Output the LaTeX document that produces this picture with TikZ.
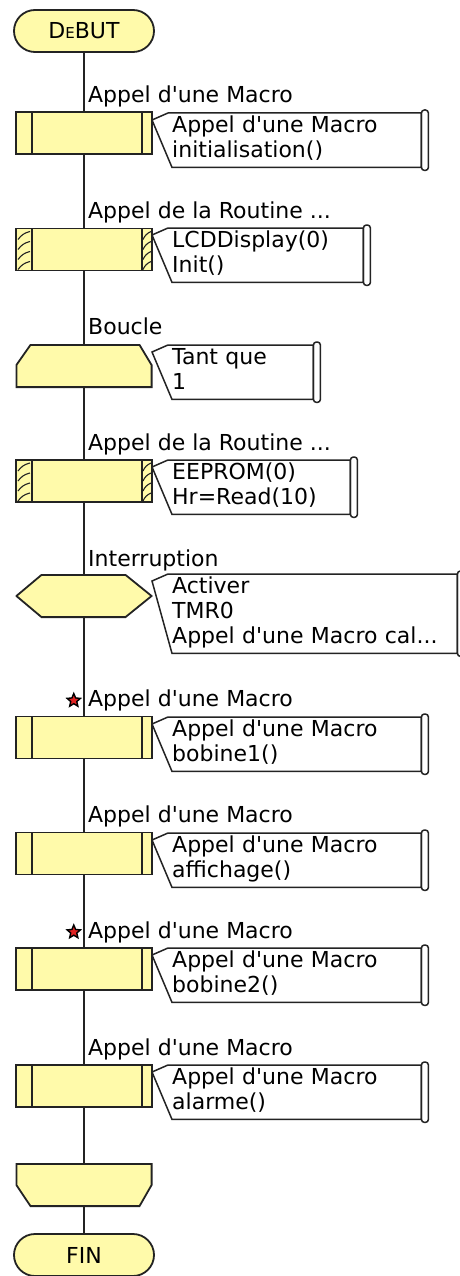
\documentclass[tikz,border=0pt]{standalone}
\usepackage{fontspec}
\usetikzlibrary{positioning, calc, shapes.misc, shapes.geometric}
\newfontfamily\dejavu{DejaVu Sans}
\definecolor{flowfill}{RGB}{255,250,170}
\definecolor{flowline}{RGB}{35,35,35}
\definecolor{bkred}{RGB}{225,35,35}
\newcommand{\apos}{\textquotesingle}
\newcommand{\fcfont}{\dejavu\fontsize{22}{25}\selectfont}
\newcommand{\ppb}{path picture bounding box}
% the two thin bars of a call block
\newcommand{\sidebars}{%
  \draw[flowline, line width=1.8pt]
    ([xshift=16pt]\ppb.north west) -- ([xshift=16pt]\ppb.south west)
    ([xshift=-10pt]\ppb.north east) -- ([xshift=-10pt]\ppb.south east);}
% hatched bars of a routine call
\newcommand{\hatchbars}{%
  \foreach \k in {0,...,3} {
    \draw[flowline, line width=1.1pt]
      ($(\ppb.north west)+(2pt,{-(11+10*\k)*1pt})$) to[bend left=20] ($(\ppb.north west)+(14pt,{-(3+10*\k)*1pt})$)
      ($(\ppb.north east)+(-9pt,{-(11+10*\k)*1pt})$) to[bend left=20] ($(\ppb.north east)+(-1pt,{-(3+10*\k)*1pt})$);
  }}

\begin{document}
\begin{tikzpicture}[x=1pt, y=-1pt,
  flow/.style={draw=flowline, line width=1.8pt, fill=flowfill, inner sep=0pt, font=\fcfont},
  term/.style={flow, rounded rectangle, minimum width=140pt, minimum height=42pt},
  macrobox/.style={flow, minimum width=136pt, minimum height=42pt, path picture={\sidebars}},
  routine/.style={flow, minimum width=136pt, minimum height=42pt, path picture={\hatchbars\sidebars}},
  shaped/.style={inner sep=0pt, minimum width=137pt, minimum height=44pt,
    path picture={\filldraw[fill=flowfill, draw=flowline, line width=1.8pt] #1;}},
  loopstart/.style={shaped={($(\ppb.south west)+(.9pt,.9pt)$) -- ($(\ppb.north west)+(.9pt,-21pt)$)
    -- ($(\ppb.north west)+(15pt,-.9pt)$) -- ($(\ppb.north east)+(-13pt,-.9pt)$)
    -- ($(\ppb.north east)+(-.9pt,-21pt)$) -- ($(\ppb.south east)+(-.9pt,.9pt)$) -- cycle}},
  loopend/.style={shaped={($(\ppb.north west)+(.9pt,-.9pt)$) -- ($(\ppb.north east)+(-.9pt,-.9pt)$)
    -- ($(\ppb.south east)+(-.9pt,22pt)$) -- ($(\ppb.south east)+(-13pt,.9pt)$)
    -- ($(\ppb.south west)+(15pt,.9pt)$) -- ($(\ppb.south west)+(.9pt,22pt)$) -- cycle}},
  hexa/.style={shaped={($(\ppb.west)+(.9pt,0pt)$) -- ($(\ppb.north west)+(26pt,-.9pt)$)
    -- ($(\ppb.north east)+(-27pt,-.9pt)$) -- ($(\ppb.east)+(-.9pt,0pt)$)
    -- ($(\ppb.south east)+(-27pt,.9pt)$) -- ($(\ppb.south west)+(26pt,.9pt)$) -- cycle}},
  lbl/.style={font=\fcfont, inner sep=0pt, anchor=base west},
  note/.style={font=\fcfont, anchor=north west, align=left, inner xsep=2pt, inner ysep=2pt,
    execute at begin node=\strut, execute at end node=\strut},
  notebox/.style={draw=flowline, line width=1.5pt},
  bkpt/.style={star, star points=5, star point ratio=2.2, minimum size=14pt, inner sep=0pt,
    fill=bkred, draw=black, line width=1.4pt},
  link/.style={draw=flowline, line width=1.8pt}]
\useasboundingbox[fill=white] (0,0) rectangle (460,1276);

% main column
\node[term] (debut) at (84,31) {D{\fontsize{15}{15}\selectfont E}BUT};
\node[macrobox] (m1) at (84,133) {};
\node[routine] (r1) at (84,249.5) {};
\node[loopstart] (lp) at (84,366) {};
\node[routine] (r2) at (84,481) {};
\node[hexa] (irq) at (84,596) {};
\node[macrobox] (m2) at (84,737.5) {};
\node[macrobox] (m3) at (84,853.5) {};
\node[macrobox] (m4) at (84,969) {};
\node[macrobox] (m5) at (84,1086) {};
\node[loopend] (le) at (84,1185) {};
\node[term] (fin) at (84,1255) {FIN};

\foreach \a/\b in {debut/m1, m1/r1, r1/lp, lp/r2, r2/irq, irq/m2, m2/m3, m3/m4, m4/m5, m5/le, le/fin}
  \draw[link] (\a) -- (\b);

% titles over the blocks
\node[above right=9pt and 4pt of m1.north, lbl] (l1) {Appel d\apos une Macro};
\node[above right=9pt and 4pt of r1.north, lbl] (l2) {Appel de la Routine ...};
\node[above right=9pt and 4pt of lp.north, lbl] (l3) {Boucle};
\node[above right=9pt and 4pt of r2.north, lbl] (l4) {Appel de la Routine ...};
\node[above right=7pt and 4pt of irq.north, lbl] (l5) {Interruption};
\node[above right=9pt and 4pt of m2.north, lbl] (l6) {Appel d\apos une Macro};
\node[above right=9pt and 4pt of m3.north, lbl] (l7) {Appel d\apos une Macro};
\node[above right=9pt and 4pt of m4.north, lbl] (l8) {Appel d\apos une Macro};
\node[above right=9pt and 4pt of m5.north, lbl] (l9) {Appel d\apos une Macro};

% breakpoints
\node[bkpt, left=9pt of l6.west] (s1) {};
\node[bkpt, left=9pt of l8.west] (s2) {};

% comments
\node[note, text width=247pt] (c1) at (170,113) {Appel d\apos une Macro\\initialisation()};
\node[note, text width=189pt] (c2) at (170,228) {LCDDisplay(0)\\Init()};
\node[note, text width=139pt] (c3) at (170,345) {Tant que\\1};
\node[note, text width=176pt] (c4) at (170,460) {EEPROM(0)\\Hr=Read(10)};
\node[note, text width=283pt] (c5) at (170,574) {Activer\\TMR0\\Appel d\apos une Macro cal...};
\node[note, text width=247pt] (c6) at (170,717) {Appel d\apos une Macro\\bobine1()};
\node[note, text width=247pt] (c7) at (170,833) {Appel d\apos une Macro\\affichage()};
\node[note, text width=247pt] (c8) at (170,948) {Appel d\apos une Macro\\bobine2()};
\node[note, text width=247pt] (c9) at (170,1065) {Appel d\apos une Macro\\alarme()};

\foreach \c in {c1,c2,c3,c4,c5,c6,c7,c8,c9} {
  \draw[notebox] ($(\c.north west)+(-18pt,-7pt)$) -- ($(\c.north west)+(-2pt,0pt)$)
    -- (\c.north east) -- (\c.south east) -- ($(\c.south west)+(2pt,0pt)$) -- cycle;
  \draw[notebox, rounded corners=3pt] ($(\c.north east)+(0pt,3pt)$) rectangle ($(\c.south east)+(7pt,-3pt)$);
}
\end{tikzpicture}
\end{document}
